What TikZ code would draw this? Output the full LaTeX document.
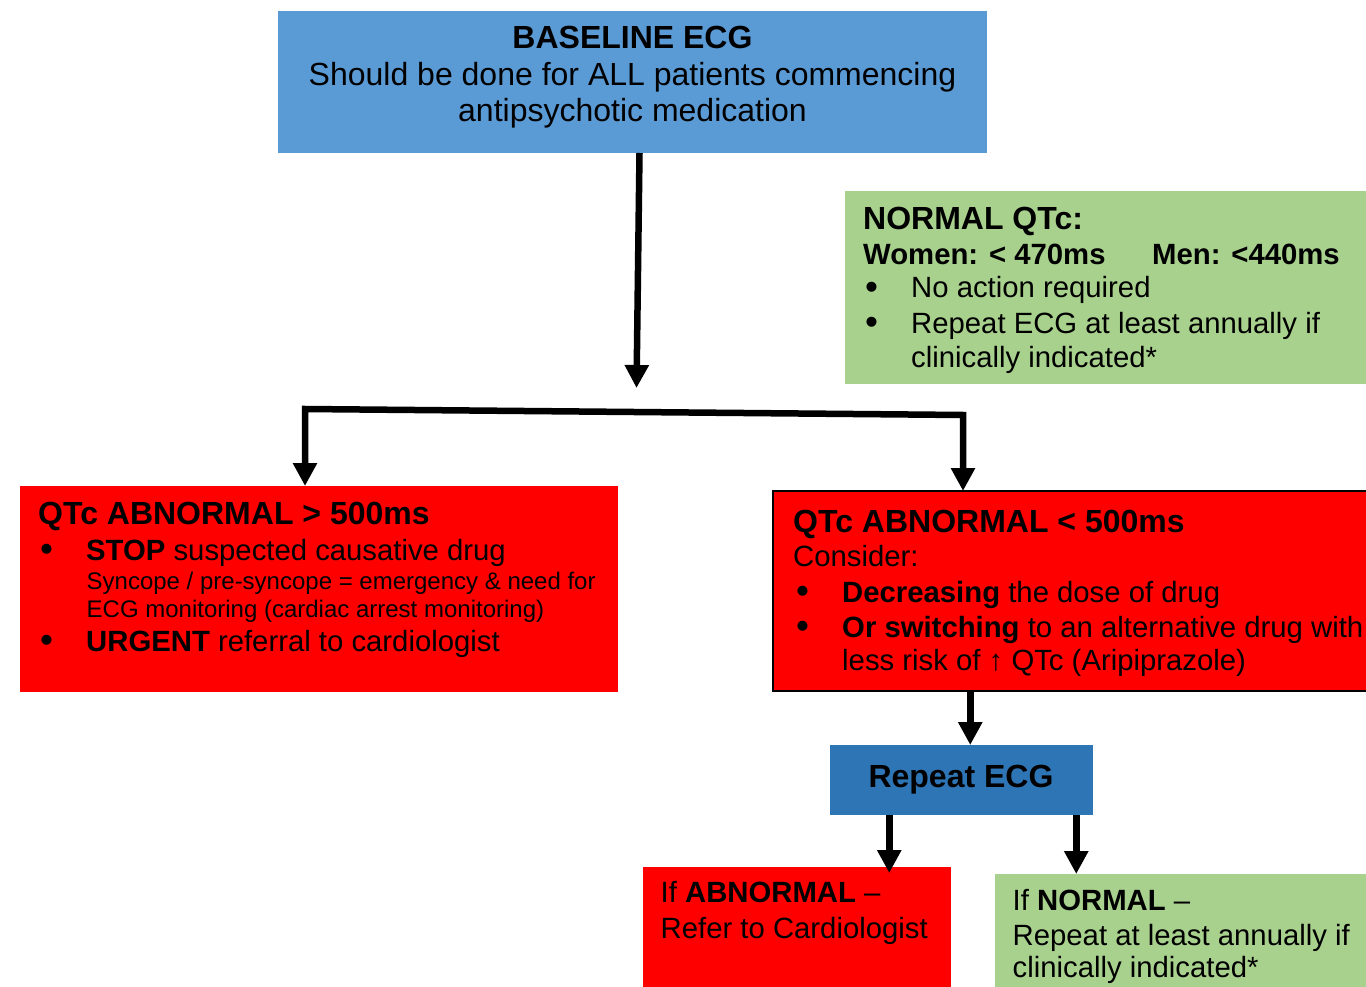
\documentclass[tikz,border=0pt]{standalone}
\usepackage{fontspec}
\setmainfont{Liberation Sans}
\usepackage{tikz}
\usetikzlibrary{calc,arrows.meta}

\definecolor{ecgblue}{HTML}{5B9BD5}
\definecolor{repblue}{HTML}{2E75B6}
\definecolor{okgreen}{HTML}{A9D18E}
\definecolor{alarmred}{HTML}{FF0000}

\newcommand{\itm}{\makebox[46pt][l]{\raisebox{-1.5pt}{\fontsize{37}{37}\selectfont\textbullet}}}

\begin{document}
\begin{tikzpicture}[x=1pt, y=-1pt,
  box/.style={anchor=north west, inner sep=0pt, outer sep=0pt},
  txt/.style={anchor=base west, inner sep=0pt, font=\fontsize{29.3}{35}\selectfont},
  ttl/.style={anchor=base west, inner sep=0pt, font=\fontsize{32}{37}\selectfont\bfseries},
  mid/.style={anchor=base, inner sep=0pt, font=\fontsize{32}{37}\selectfont},
  sml/.style={txt, font=\fontsize{24}{28}\selectfont},
  arr/.style={line width=6.5pt, line join=miter, -{Triangle[length=23pt,width=23pt]}}]
\clip (0,0) rectangle (1366,987);
\fill[white] (0,0) rectangle (1366,987);

% boxes
\node[box, fill=ecgblue, minimum width=709pt, minimum height=142pt] (base) at (278,11) {};
\node[box, fill=okgreen, minimum width=530pt, minimum height=193pt] (normal) at (845,191) {};
\node[box, fill=alarmred, minimum width=598pt, minimum height=206pt] (high) at (20,486) {};
\node[box, fill=alarmred, draw=black, line width=2pt, minimum width=600pt, minimum height=200pt] (low) at (773,491) {};
\node[box, fill=repblue, minimum width=263.5pt, minimum height=70pt] (rep) at (829.5,745) {};
\node[box, fill=alarmred, minimum width=308pt, minimum height=125pt] (refer) at (643,867) {};
\node[box, fill=okgreen, minimum width=380pt, minimum height=120pt] (recheck) at (995,874) {};

% baseline box text
\node[mid] (base1) at (632.5,48.5) {\textbf{BASELINE ECG}};
\node[mid] (base2) at (632.5,86) {Should be done for ALL patients commencing};
\node[mid] (base3) at (632.5,122) {antipsychotic medication};

% normal QTc
\node[ttl] (normal1) at (863,230) {NORMAL QTc:};
\node[txt] (normal2) at (863,265) {\textbf{Women: < 470ms}};
\node[txt] (normal3) at (1152,265) {\textbf{Men: <440ms}};
\node[txt] (normal4) at (865,298) {\itm No action required};
\node[txt] (normal5) at (865,333) {\itm Repeat ECG at least annually if};
\node[txt] (normal6) at (911,367) {clinically indicated*};

% above 500ms
\node[ttl] (high1) at (38,524) {QTc ABNORMAL > 500ms};
\node[txt] (high2) at (40,560) {\itm\textbf{STOP} suspected causative drug};
\node[sml] (high3) at (86.5,589) {Syncope / pre-syncope = emergency \& need for};
\node[sml] (high4) at (86.5,617) {ECG monitoring (cardiac arrest monitoring)};
\node[txt] (high5) at (40,651) {\itm\textbf{URGENT} referral to cardiologist};

% below 500ms
\node[ttl] (low1) at (793,532) {QTc ABNORMAL < 500ms};
\node[txt] (low2) at (793,566) {Consider:};
\node[txt] (low3) at (796,602) {\itm\textbf{Decreasing} the dose of drug};
\node[txt] (low4) at (796,637) {\itm\textbf{Or switching} to an alternative drug with};
\node[txt] (low5) at (842,670) {less risk of ↑ QTc (Aripiprazole)};

% repeat and outcomes
\node[mid] (rep1) at (961,787) {\textbf{Repeat ECG}};
\node[txt] (refer1) at (660.5,902) {If \textbf{ABNORMAL} \textendash};
\node[txt] (refer2) at (660.5,938) {Refer to Cardiologist};
\node[txt] (recheck1) at (1012.5,910) {If \textbf{NORMAL} \textendash};
\node[txt] (recheck2) at (1012.5,945) {Repeat at least annually if};
\node[txt] (recheck3) at (1012.5,977) {clinically indicated*};

% connectors
\coordinate (fork) at (636.5,388);
\coordinate (forkl) at (305,409);
\coordinate (forkr) at (963,415);
\draw[arr] ([xshift=7pt]base.south) -- (fork);
\draw[arr, {Triangle[length=23pt,width=23pt]}-{Triangle[length=23pt,width=23pt]}]
  (forkl |- high.north) -- (forkl) -- (forkr) -- (forkr |- low.north);
\draw[arr] ([xshift=9pt]rep.north |- low.south) -- ([xshift=9pt]rep.north);
\draw[arr, shorten >=-6pt] ([xshift=-72pt]rep.south) -- ([xshift=-72pt]rep.south |- refer.north);
\draw[arr] ([xshift=115pt]rep.south) -- ([xshift=115pt]rep.south |- recheck.north);
\end{tikzpicture}
\end{document}
